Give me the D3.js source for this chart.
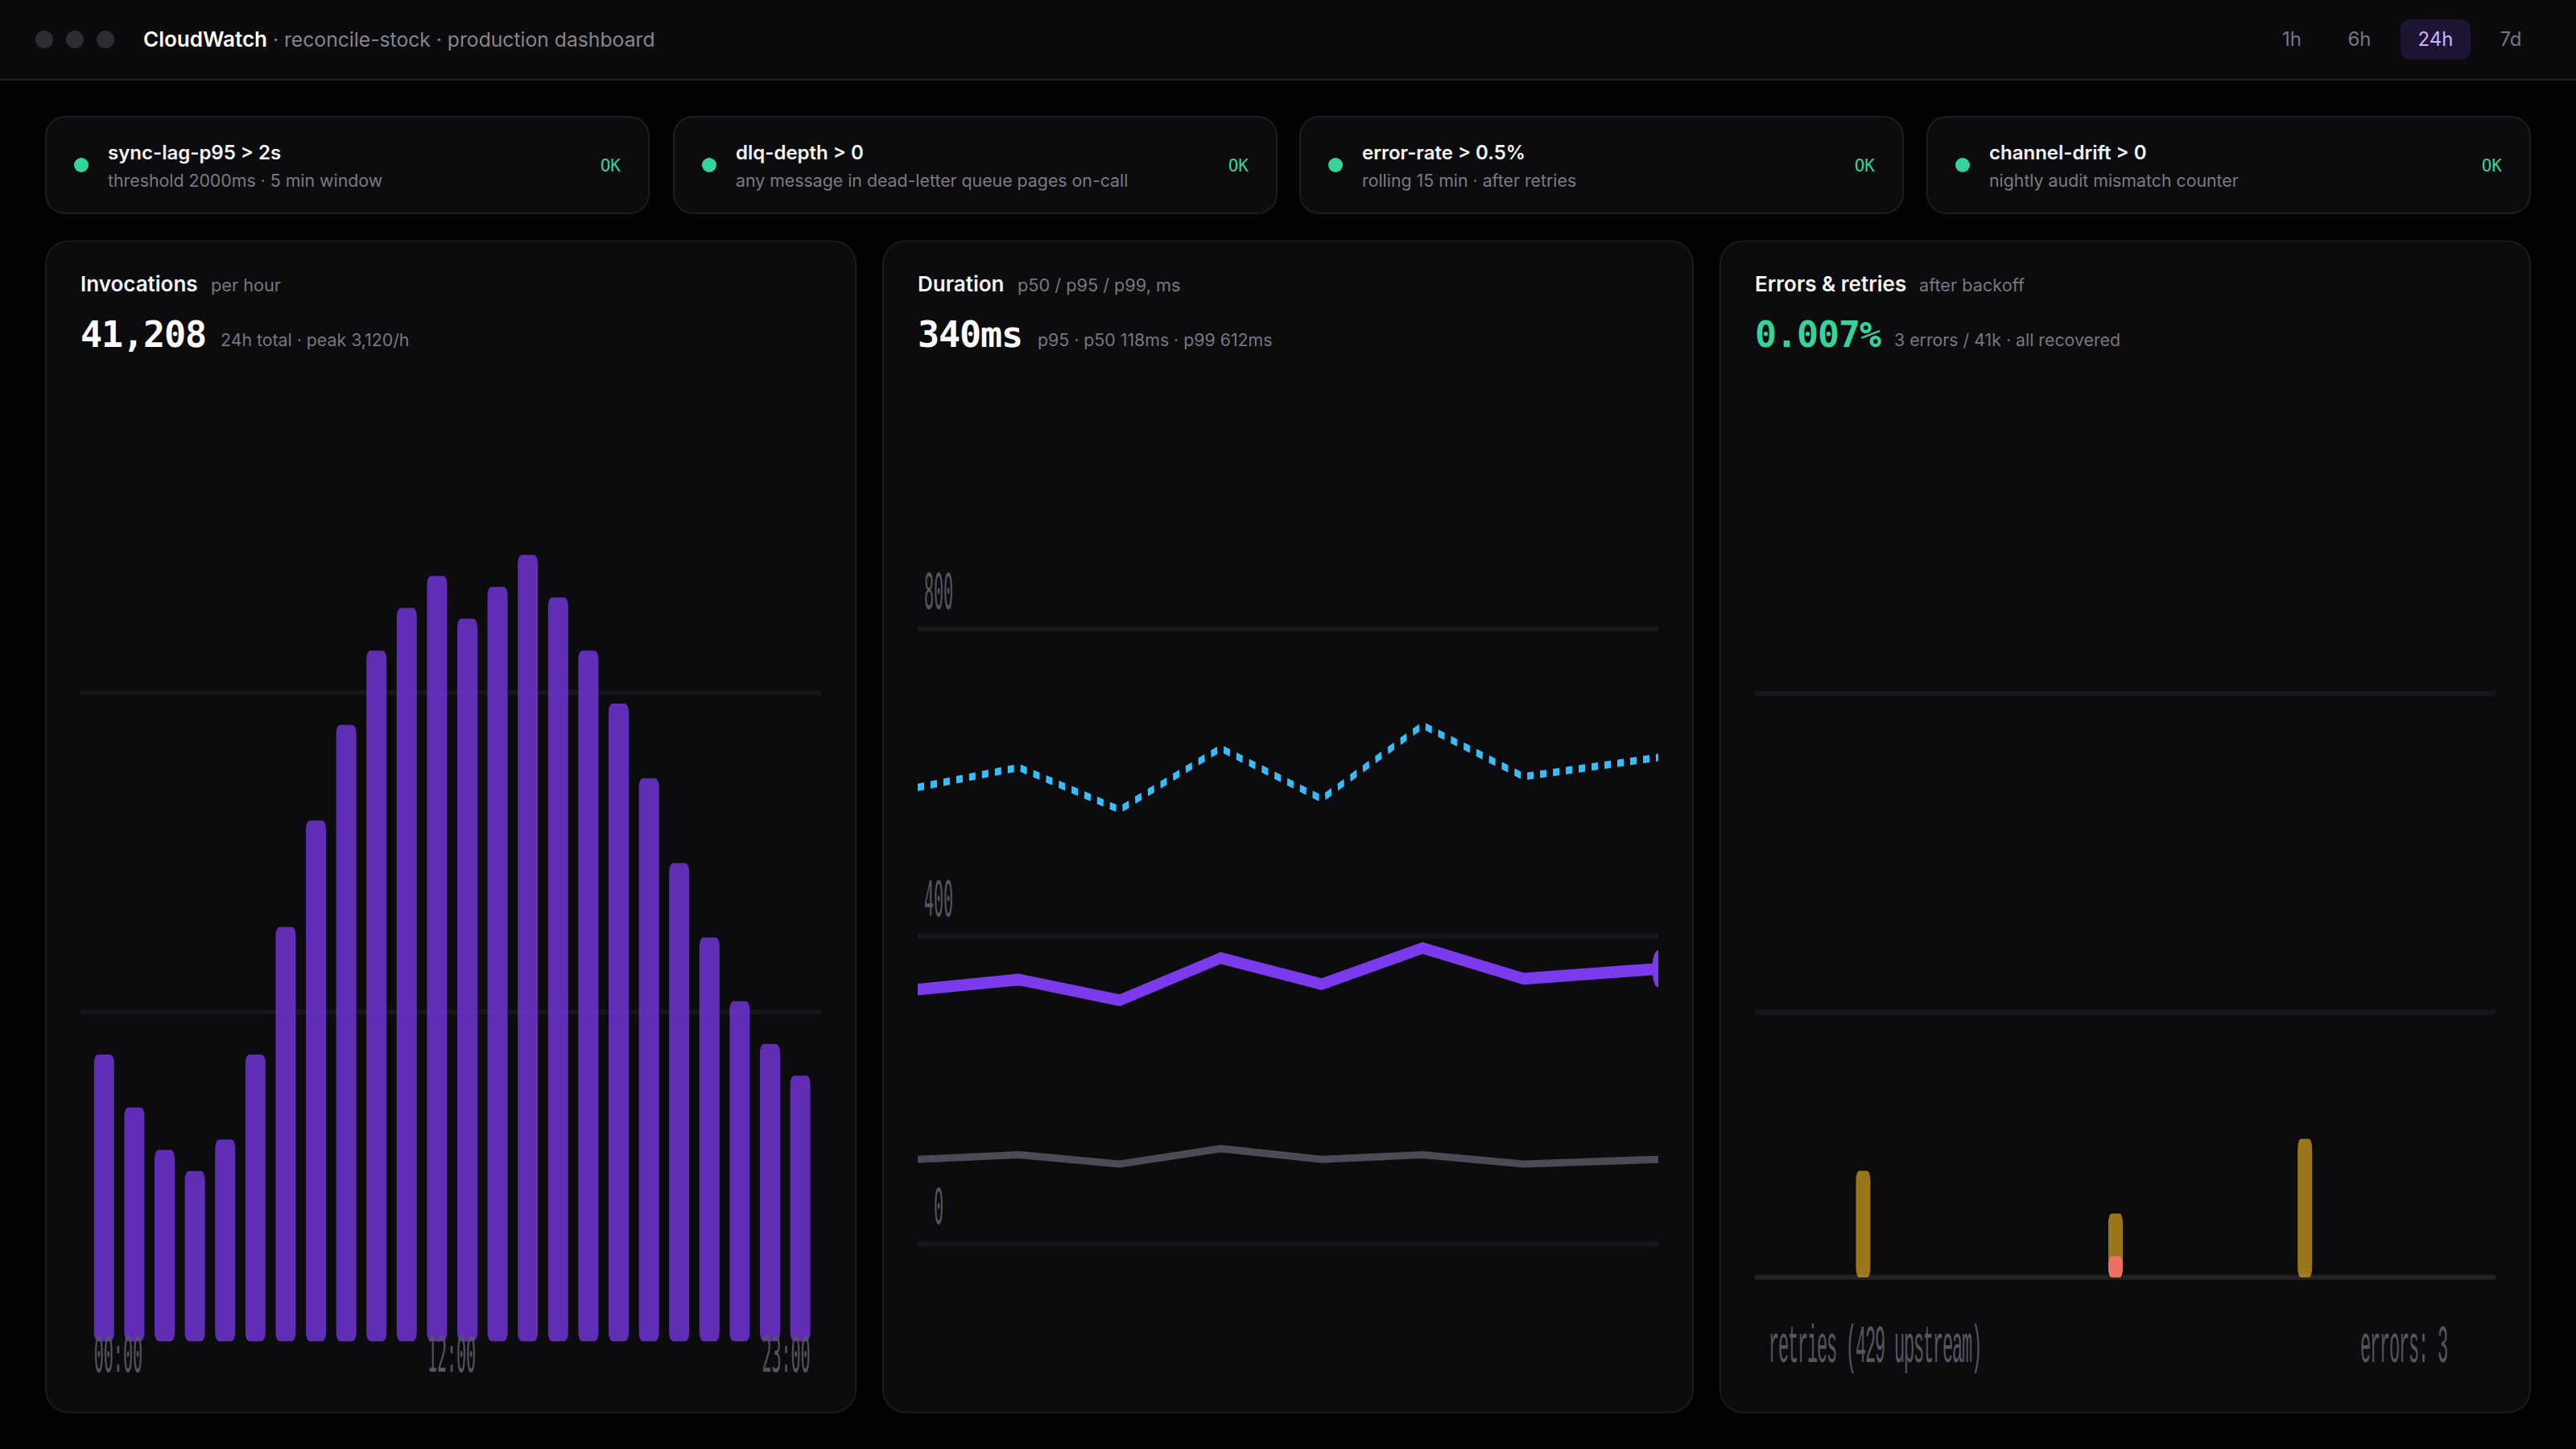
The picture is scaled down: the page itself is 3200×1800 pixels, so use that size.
<!DOCTYPE html>
<html>
<head>
<meta charset="utf-8">
<style>
  html, body { margin: 0; background: #030304; }
  svg { display: block; }
  text { font-family: Inter, sans-serif; }
  text.mono { font-family: "DejaVu Sans Mono", monospace; }
  text.words { font-family: "Liberation Mono", monospace; letter-spacing: -0.6px; }
</style>
<script src="https://cdn.jsdelivr.net/npm/d3@7"></script>
</head>
<body>
<div id="app"></div>
<script>
const RANGES = ["1h", "6h", "24h", "7d"];
const ACTIVE_RANGE = "24h";

const ALERT_TITLES = ["sync-lag-p95 > 2s", "dlq-depth > 0", "error-rate > 0.5%", "channel-drift > 0"];
const ALERT_NOTES = [
  "threshold 2000ms · 5 min window",
  "any message in dead-letter queue pages on-call",
  "rolling 15 min · after retries",
  "nightly audit mismatch counter",
];

const HOURS = d3.range(24);
const INVOCATIONS = [1138, 928, 759, 675, 801, 1138, 1644, 2066, 2445, 2740, 2909, 3036,
  2867, 2993, 3120, 2951, 2740, 2530, 2234, 1897, 1602, 1349, 1180, 1054];
const INVOCATION_GRID = [1307, 2573];
const HOUR_LABELS = ["00:00", "12:00", "23:00"];

// duration samples are 3h apart except the last one
const SAMPLE_HOURS = [0, 3, 6, 9, 12, 15, 18, 22];
const P50 = [110, 116, 104, 124, 110, 116, 104, 110];
const P95 = [331, 344, 317, 372, 338, 385, 345, 358];
const P99 = [594, 620, 565, 645, 579, 675, 608, 633];
const DURATION_TICKS = [0, 400, 800];

const RETRY_HOURS = [3, 11, 17];
const RETRIES = [5, 3, 6.5];
const ERROR_HOURS = [11];
const ERRORS = [1];
const ERROR_GRID = [12.45, 27.4];

// ---------- Page ----------
const W = 3200, H = 1800;
const svg = d3.select("#app").append("svg").attr("width", W).attr("height", H);

function label(g, x, y, str, size, fill, weight = 400, anchor = "start", cls = null) {
  return g.append("text")
    .attr("x", x).attr("y", y)
    .attr("font-size", size)
    .attr("font-weight", weight)
    .attr("fill", fill)
    .attr("text-anchor", anchor)
    .attr("class", cls)
    .text(str);
}

// ---------- Top bar ----------
const topBar = svg.append("g");
topBar.append("rect").attr("width", W).attr("height", 99).attr("fill", "#0b0b0e");
topBar.append("rect").attr("y", 98).attr("width", W).attr("height", 2).attr("fill", "#1e1e23");
[55, 93, 131].forEach((cx) => {
  topBar.append("circle").attr("cx", cx).attr("cy", 49).attr("r", 11).attr("fill", "#2d2d33");
});
const heading = label(topBar, 178, 58, "CloudWatch", 26, "#ffffff", 600);
heading.append("tspan").attr("fill", "#85858c").attr("font-weight", 400).attr("font-size", 24.7)
  .text(" · reconcile-stock · production dashboard");

const rangeX = d3.scaleOrdinal().domain(RANGES).range([2847, 2931, 3025.5, 3119]);
topBar.append("rect").attr("x", 2982).attr("y", 24).attr("width", 87).attr("height", 50)
  .attr("rx", 12).attr("fill", "#1e1534");
RANGES.forEach((r) => {
  label(topBar, rangeX(r), 57, r, 24, r === ACTIVE_RANGE ? "#c4b5fd" : "#77777f", 400, "middle");
});

// ---------- Alert cards ----------
const cardX = d3.scaleBand().domain(d3.range(4)).range([56, 3144]).paddingInner(28 / 779);
ALERT_TITLES.forEach((name, i) => {
  const g = svg.append("g").attr("transform", `translate(${cardX(i) + (i === 1 ? 1 : 0)}, 144)`);
  g.append("rect").attr("x", 1).attr("y", 1)
    .attr("width", cardX.bandwidth() - 2).attr("height", 120)
    .attr("rx", 24).attr("fill", "#0c0c0f").attr("stroke", "#1c1c21").attr("stroke-width", 2);
  g.append("circle").attr("cx", 45).attr("cy", 61).attr("r", 9).attr("fill", "#34d399");
  label(g, 78, 54, name, 24, "#f4f4f5", 600);
  label(g, 78, 88, ALERT_NOTES[i], 21.3, "#7a7a82");
  label(g, cardX.bandwidth() - 36, 69, "OK", 21, "#34d399", 400, "end", "mono");
});

// ---------- Panels ----------
const panelX = d3.scaleBand().domain(d3.range(3)).range([56, 3144]).paddingInner(32 / 1040);

function panel(i, name, unit, unitX, big, bigFill, note, noteX) {
  const x0 = panelX(i);
  const g = svg.append("g");
  g.append("rect").attr("x", x0 + 1).attr("y", 299.5)
    .attr("width", panelX.bandwidth() - 2).attr("height", 1455)
    .attr("rx", 28).attr("fill", "#0c0c0f").attr("stroke", "#1a1a1f").attr("stroke-width", 2);
  label(g, x0 + 44, 362, name, 26, "#f4f4f5", 600);
  label(g, unitX, 362, unit, 21.7, "#77777f");
  label(g, x0 + 44, 431, big, 45, bigFill, 700, "start", "mono").attr("letter-spacing", -1.1);
  label(g, noteX, 430, note, 21.3, "#77777f");

  // plot is stretched on purpose: 460 units wide on 920px, tall units on 6.11px each
  return svg.append("svg")
    .attr("x", x0 + 44).attr("y", 476)
    .attr("width", 920).attr("height", 205 * 6.11)
    .attr("viewBox", "0 0 460 205")
    .attr("preserveAspectRatio", "none");
}

function grid(plot, values, y, color = "#17171b") {
  plot.append("g").selectAll("line").data(values).enter().append("line")
    .attr("x1", 0).attr("x2", 460)
    .attr("y1", y).attr("y2", y)
    .attr("stroke", color).attr("stroke-width", 1);
}

function tick(plot, x, y, str, anchor = "start", cls = "mono", size = 10) {
  return plot.append("text").attr("class", cls)
    .attr("x", x).attr("y", y)
    .attr("font-size", size).attr("fill", "#55555e")
    .attr("text-anchor", anchor).text(str);
}

// ---------- Invocations ----------
function renderInvocations() {
  const plot = panel(0, "Invocations", "per hour", 262, "41,208", "#ffffff",
    "24h total · peak 3,120/h", 274);
  const x = d3.scaleBand().domain(HOURS).range([5.25, 456.45])
    .paddingInner(0.335).paddingOuter(0.1675);
  const y = d3.scaleLinear().domain([0, 3120]).range([194.8, 34.9]);

  grid(plot, INVOCATION_GRID, y);
  plot.append("g").selectAll("rect").data(INVOCATIONS).enter().append("rect")
    .attr("x", (d, i) => x(HOURS[i]))
    .attr("y", (d) => y(d))
    .attr("width", x.bandwidth())
    .attr("height", (d) => y(0) - y(d))
    .attr("rx", 2.4).attr("ry", 1.8).attr("fill", "#7c3aed").attr("opacity", 0.75);

  tick(plot, x(0), 201, HOUR_LABELS[0]);
  tick(plot, 230.5, 201, HOUR_LABELS[1], "middle");
  tick(plot, x(23) + x.bandwidth(), 201, HOUR_LABELS[2], "end");
}

// ---------- Duration ----------
function renderDuration() {
  const plot = panel(1, "Duration", "p50 / p95 / p99, ms", 1264, "340ms", "#ffffff",
    "p95 · p50 118ms · p99 612ms", 1289);
  const x = d3.scaleLinear().domain([0, 22]).range([0, 460]);
  const y = d3.scaleLinear().domain([0, 800]).range([175, 50]);
  const line = d3.line().x((d, i) => x(SAMPLE_HOURS[i])).y((d) => y(d));

  grid(plot, DURATION_TICKS, y);
  DURATION_TICKS.forEach((t) => tick(plot, 13, y(t) - 4.2, t, "middle"));

  plot.append("path").datum(P50).attr("d", line).attr("fill", "none")
    .attr("stroke", "#4b4b55").attr("stroke-width", 1.5);
  plot.append("path").datum(P99).attr("d", line).attr("fill", "none")
    .attr("stroke", "#38bdf8").attr("stroke-width", 1.5).attr("stroke-dasharray", "4 4");
  plot.append("path").datum(P95).attr("d", line).attr("fill", "none")
    .attr("stroke", "#7c3aed").attr("stroke-width", 2.4);
  plot.append("circle").attr("cx", x(22)).attr("cy", y(P95[7])).attr("r", 3.8).attr("fill", "#7c3aed");
}

// ---------- Errors ----------
function renderErrors() {
  const plot = panel(2, "Errors & retries", "after backoff", 2384, "0.007%", "#34d399",
    "3 errors / 41k · all recovered", 2353);
  const x = d3.scaleBand().domain(HOURS).range([-1.35, 469])
    .paddingInner(0.541).paddingOuter(0.2705);
  const y = d3.scaleLinear().domain([0, 10]).range([181.8, 138.5]);

  grid(plot, ERROR_GRID, y);
  grid(plot, [0], y, "#222228");

  plot.append("g").selectAll("rect").data(RETRIES).enter().append("rect")
    .attr("x", (d, i) => x(RETRY_HOURS[i]))
    .attr("y", (d) => y(d))
    .attr("width", x.bandwidth())
    .attr("height", (d) => y(0) - y(d))
    .attr("rx", 2).attr("fill", "#fbbf24").attr("opacity", 0.6);
  plot.append("g").selectAll("rect").data(ERRORS).enter().append("rect")
    .attr("x", (d, i) => x(ERROR_HOURS[i]))
    .attr("y", (d) => y(d))
    .attr("width", x.bandwidth())
    .attr("height", (d) => y(0) - y(d))
    .attr("rx", 2).attr("fill", "#f87171").attr("opacity", 0.85);

  tick(plot, 8.5, 199, "retries (429 upstream)", "start", "words", 11);
  tick(plot, 430, 199, "errors: 3", "end", "words", 11);
}

renderInvocations();
renderDuration();
renderErrors();
</script>
</body>
</html>
